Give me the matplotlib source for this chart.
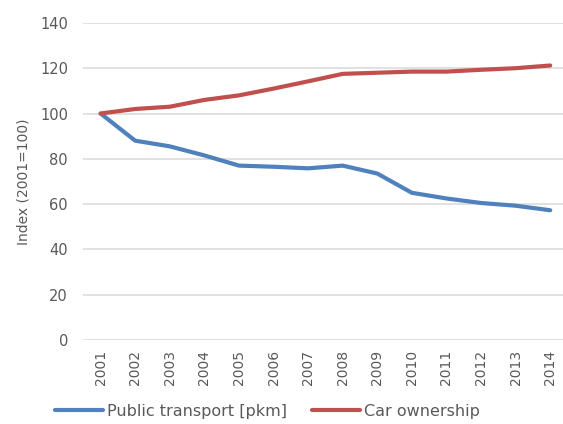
import matplotlib
matplotlib.use("Agg")
import matplotlib.pyplot as plt

years = ["2001", "2002", "2003", "2004", "2005", "2006", "2007",
         "2008", "2009", "2010", "2011", "2012", "2013", "2014"]
public_transport = [100, 88, 85.5, 81.5, 77, 76.5, 75.8,
                    77, 73.5, 65, 62.5, 60.5, 59.3, 57.3]
car_ownership = [100, 102, 103, 106, 108, 111, 114.2,
                 117.5, 118, 118.5, 118.5, 119.3, 120, 121.2]
y_ticks = [0, 20, 40, 60, 80, 100, 120, 140]

plt.rcParams['font.family'] = ['DejaVu Sans']
text_color = "#595959"

fig = plt.figure(figsize=(5.63, 4.24), dpi=100)
ax = fig.add_axes([0.148, 0.198, 0.86, 0.748])

x = list(range(len(years)))
ax.plot(x, public_transport, color="#4F81BD", lw=3.0,
        solid_capstyle="round", label="Public transport [pkm]", zorder=3)
ax.plot(x, car_ownership, color="#C0504D", lw=3.0,
        solid_capstyle="round", label="Car ownership", zorder=3)

ax.set_xlim(-0.5, len(years) - 0.5)
ax.set_ylim(0, 140)
ax.set_yticks(y_ticks)
ax.set_xticks(x)
ax.set_xticklabels(years, rotation=90, fontsize=10, color=text_color)
ax.tick_params(axis="y", labelsize=10.5, labelcolor=text_color, length=0, pad=11)
ax.tick_params(axis="x", length=0, pad=7)
ax.grid(axis="y", color="#D9D9D9", lw=1.1)
ax.set_axisbelow(True)
for s in ax.spines.values():
    s.set_visible(False)

ax.set_ylabel("Index (2001=100)", fontsize=10, color=text_color, labelpad=7)

fig.legend(loc="center", bbox_to_anchor=(0.475, 0.03), ncol=2, frameon=False,
           fontsize=11.5, handlelength=3.0, handletextpad=0.25,
           columnspacing=1.6, labelcolor=text_color)

fig.savefig("out.png", dpi=100)
